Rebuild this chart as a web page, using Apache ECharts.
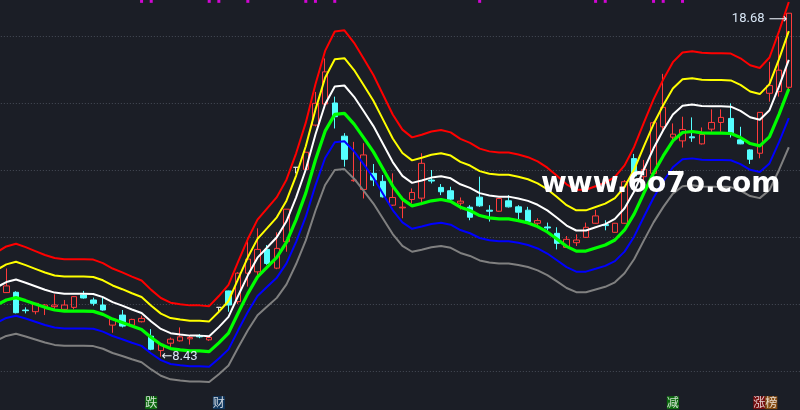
<!DOCTYPE html>
<html><head><meta charset="utf-8">
<script src="https://cdn.jsdelivr.net/npm/echarts@6/dist/echarts.min.js"></script>
<style>html,body{margin:0;padding:0;background:#1b1e26;}#c{width:800px;height:410px;}</style>
</head><body><div id="c"></div>
<script>
const opens = [10.34,10.35,9.82,9.77,9.90,9.92,9.84,9.90,10.27,10.12,9.97,9.37,9.67,9.37,9.47,9.04,8.61,8.83,8.90,8.96,9.06,8.93,9.90,10.39,10.07,10.92,10.96,11.63,11.07,11.86,14.08,14.02,15.34,15.97,16.00,15.01,13.68,13.42,13.90,13.66,12.95,12.87,13.12,13.16,13.70,13.48,13.38,13.01,12.89,13.19,12.80,12.77,13.08,12.90,12.80,12.41,12.30,12.11,11.69,11.83,11.99,12.41,12.37,12.14,12.41,14.34,13.80,13.90,15.29,14.98,14.87,14.99,14.78,15.22,15.42,15.54,14.90,14.60,14.50,16.29,16.34,16.47];
const closes = [10.54,9.74,9.80,10.02,9.97,9.97,9.97,10.22,10.18,10.02,9.82,9.55,9.34,9.54,9.57,8.65,8.80,8.95,9.02,9.00,9.02,9.00,9.90,9.97,10.92,11.34,11.63,11.21,11.66,12.83,14.08,14.53,15.99,16.93,15.59,14.32,13.70,14.45,13.70,13.20,13.18,12.89,13.33,14.20,13.67,13.35,13.13,13.07,12.59,12.93,12.77,13.15,12.90,12.74,12.46,12.49,12.27,11.81,11.93,11.91,12.29,12.63,12.34,12.41,13.65,13.82,14.02,15.41,15.87,15.07,15.21,14.96,15.06,15.42,15.57,15.11,14.78,14.32,15.72,16.52,16.98,18.68];
const lows = [10.33,9.72,9.72,9.69,9.67,9.85,9.78,9.84,10.16,9.95,9.80,9.14,9.30,9.33,9.45,8.62,8.43,8.72,8.88,8.79,8.98,8.90,9.73,9.77,10.00,10.52,10.81,11.17,11.04,11.56,13.90,14.00,15.30,15.90,15.24,14.10,13.65,13.15,13.52,13.18,12.93,12.56,13.00,12.95,13.60,13.25,13.05,12.82,12.50,12.90,12.46,12.76,12.88,12.52,12.44,12.29,12.19,11.63,11.68,11.73,11.97,12.40,12.20,12.13,12.40,13.70,13.70,13.85,15.14,14.84,14.67,14.84,14.76,15.14,15.14,14.97,14.77,14.18,14.35,16.04,16.19,16.40];
const highs = [11.06,10.38,9.90,10.03,10.00,10.29,10.12,10.23,10.39,10.19,10.19,9.56,9.82,9.56,9.65,9.25,8.82,9.00,9.30,9.05,9.10,9.02,9.90,10.40,10.95,11.91,12.26,11.76,12.14,12.83,14.08,14.55,16.33,17.33,16.19,15.10,14.84,14.80,14.18,13.85,13.90,13.20,13.45,14.50,14.00,13.58,13.50,13.18,12.95,13.80,12.95,13.16,13.25,12.95,12.90,12.56,12.43,12.29,12.03,12.08,12.43,12.81,12.50,12.42,13.70,14.48,14.30,15.45,16.87,15.39,15.59,15.57,15.27,15.81,15.81,15.99,15.29,14.62,15.73,17.23,17.98,18.68];
// centre (green) channel line; leadMid = its value one bar before the first visible candle
const leadMid = 9.97;
const midLine = [10.12,10.19,10.10,10.00,9.90,9.82,9.79,9.79,9.79,9.78,9.69,9.55,9.45,9.34,9.24,9.00,8.79,8.67,8.63,8.60,8.60,8.58,8.84,9.13,9.73,10.31,10.81,11.10,11.39,11.84,12.52,13.31,14.30,15.16,15.66,15.69,15.37,14.96,14.54,14.03,13.52,13.13,12.93,13.00,13.08,13.12,13.06,12.89,12.79,12.64,12.57,12.54,12.54,12.49,12.42,12.31,12.15,11.94,11.72,11.58,11.58,11.67,11.76,11.91,12.21,12.69,13.31,13.91,14.42,14.87,15.12,15.15,15.11,15.10,15.10,15.09,14.97,14.79,14.72,14.99,15.67,16.42];
// channel multipliers of the six lines (top to bottom)
const bandFactors = [1.158, 1.105, 1.053, 1.0, 0.947, 0.894];
const gridLevels = [8, 10, 12, 14, 16, 18];
const signalIdx = [14,15,21,22,25,31,32,34,49,61,62,67,68,70];
const tagIdx = [15, 22, 69];
const tagText = ['跌', '财', '减'];
const rankIdx = 78;
const rankText = ['涨', '榜'];

const bandColors = ['#ff0000', '#ffff00', '#ffffff', '#00ff00', '#0000ff', '#808080'];
const bandWidths = [2, 2, 2, 3.2, 2, 2];
const tagColors = ['#0a7d0a', '#0c3c6c', '#0a7d0a'];
const TAG_Y = 7.054, TOP_Y = 19.05;
const BAND = 9.66, N = opens.length;

// one hidden lead slot (off-screen, left) and one empty trailing slot
const categories = Array.from({length: N + 2}, (_, i) => String(i));
const kData = ['-'].concat(opens.map((o, i) => [o, closes[i], lows[i], highs[i]]), ['-']);
const mid = [leadMid].concat(midLine, ['-']);
const chart = echarts.init(document.getElementById('c'), null, {renderer: 'canvas'});
const lineSeries = bandFactors.map((f, k) => ({
  type: 'line', data: mid.map(v => v === '-' ? '-' : +(v * f).toFixed(3)), showSymbol: false, smooth: false,
  lineStyle: {color: bandColors[k], width: bandWidths[k]}, z: 3, silent: true
}));
chart.setOption({
  backgroundColor: '#1b1e26',
  animation: false,
  grid: {left: 1.5 - BAND, width: BAND * (N + 2), top: 0, height: 410, outerBoundsMode: 'none', containLabel: false},
  xAxis: {type: 'category', data: categories, show: false, boundaryGap: true},
  yAxis: {type: 'value', min: 6.8358, max: 19.0746, axisLabel: {show: false}, axisLine: {show: false}, axisTick: {show: false},
    splitLine: {show: false}},
  graphic: [{type: 'text', x: 541, y: 185, z: 100,
    style: {text: 'www.6o7o.com', fill: '#ffffff', fontSize: 28, fontWeight: 'bold', fontFamily: 'DejaVu Sans', verticalAlign: 'middle', align: 'left',
      shadowBlur: 2, shadowColor: 'rgba(0,0,0,0.6)'}}],
  series: [
    {type: 'candlestick', data: kData, barWidth: 6, z: 2,
      itemStyle: {color: 'transparent', color0: '#54ffff', borderColor: '#ff3b3b', borderColor0: '#54ffff', borderColorDoji: '#e0e0e0', borderWidth: 1},
      markLine: {silent: true, symbol: 'none', label: {show: false}, z: 1,
        lineStyle: {color: '#474c57', type: [1, 2], width: 1},
        data: gridLevels.map(v => ({yAxis: v}))},
      markPoint: {symbol: 'circle', symbolSize: 1, itemStyle: {color: 'rgba(0,0,0,0)'},
        label: {show: true, color: '#d8e6f5', fontSize: 13, fontFamily: 'Roboto'},
        data: [
          {type: 'max', valueDim: 'highest', label: {position: 'left', distance: 1, offset: [0, 6],
            formatter: p => '{t|' + p.value.toFixed(2) + '}{a| ⟶}',
            rich: {t: {fontFamily: 'Roboto', fontSize: 13, color: '#d8e6f5'}, a: {fontFamily: 'DejaVu Sans', fontSize: 13, color: '#e8eef5'}}}},
          {type: 'min', valueDim: 'lowest', label: {position: 'right', distance: 0,
            formatter: p => '{a|←}{t|' + p.value.toFixed(2) + '}',
            rich: {t: {fontFamily: 'Roboto', fontSize: 13, color: '#d8e6f5'}, a: {fontFamily: 'DejaVu Sans', fontSize: 13, color: '#e8eef5'}}}}
        ]}
    },
    ...lineSeries,
    {type: 'scatter', data: signalIdx.map(i => [i + 1, TOP_Y]), symbol: 'rect', symbolSize: [3, 4], itemStyle: {color: '#ff00ff'}, z: 5, silent: true},
    {type: 'scatter', z: 6, silent: true, symbol: 'rect', symbolSize: [12, 13],
      data: tagIdx.map((i, k) => ({value: [i + 1, TAG_Y], itemStyle: {color: tagColors[k]},
        label: {show: true, position: 'inside', formatter: tagText[k], color: '#ffffff', fontSize: 12, fontFamily: 'Noto Sans CJK SC'}}))},
    {type: 'scatter', z: 6, silent: true, symbol: 'rect', symbolSize: 1, itemStyle: {color: 'rgba(0,0,0,0)'},
      data: [{value: [rankIdx + 1, TAG_Y],
        label: {show: true, position: 'inside', offset: [5.5, 0], formatter: '{a|' + rankText[0] + '}{b|' + rankText[1] + '}',
          rich: {a: {backgroundColor: '#8c0808', color: '#ffffff', fontSize: 12, lineHeight: 13, height: 13, fontFamily: 'Noto Sans CJK SC'},
                 b: {backgroundColor: '#a0560c', color: '#ffffff', fontSize: 12, lineHeight: 13, height: 13, fontFamily: 'Noto Sans CJK SC'}}}}]}
  ]
});
</script>
</body></html>
